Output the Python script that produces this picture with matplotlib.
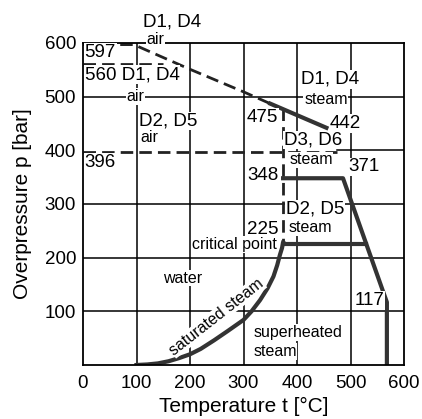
import matplotlib
matplotlib.use("Agg")
from matplotlib import pyplot as plt

# saturated steam curve (t in degC, overpressure in bar)
sat_t = [100, 120, 140, 160, 180, 200, 220, 245, 270, 300, 315, 331, 345, 356, 363, 368, 372, 374]
sat_p = [0, 1, 3, 7, 13, 20, 30, 46, 63, 84, 100, 121, 143, 165, 186, 205, 218, 228]

# D1, D4 limit (air dashed, steam solid)
d14_air_t = [0, 95, 200, 300, 350]
d14_air_p = [597, 597, 551, 509, 487]
d14_steam_t = [350, 455]
d14_steam_p = [487, 442]
d14_560_t = [0, 150]
d14_560_p = [560, 560]

# D2, D5 / D3, D6 air limits (dashed)
d25_air_t = [0, 475]
d25_air_p = [396, 396]
d36_t = [374, 374]
d36_p = [479, 225]

# steam limits (solid)
d36_steam_t = [374, 486, 568, 568]
d36_steam_p = [348, 348, 117, 0]
d25_steam_t = [374, 529]
d25_steam_p = [225, 225]

FONT = "Liberation Sans"
BIG = 13.5
SMALL = 11.5

labels = [
    ("D1, D4", 167, 640, BIG, "center"),
    ("air", 136, 606, SMALL, "center"),
    ("597", 3, 583, BIG, "left"),
    ("560 D1, D4", 3, 541, BIG, "left"),
    ("air", 98, 500, SMALL, "center"),
    ("D2, D5", 159, 455, BIG, "center"),
    ("air", 124, 424, SMALL, "center"),
    ("396", 3, 377, BIG, "left"),
    ("D1, D4", 461, 532, BIG, "center"),
    ("steam", 454, 495, SMALL, "center"),
    ("475", 335, 461, BIG, "center"),
    ("442", 490, 450, BIG, "center"),
    ("D3, D6", 430, 419, BIG, "center"),
    ("steam", 426, 382, SMALL, "center"),
    ("371", 526, 369, BIG, "center"),
    ("348", 366, 353, BIG, "right"),
    ("D2, D5", 434, 290, BIG, "center"),
    ("steam", 424, 256, SMALL, "center"),
    ("225", 336, 252, BIG, "center"),
    ("critical point", 362, 224, SMALL, "right"),
    ("water", 187, 162, SMALL, "center"),
    ("superheated", 318, 61, SMALL, "left"),
    ("steam", 318, 25, SMALL, "left"),
    ("117", 535, 120, BIG, "center"),
]

fig = plt.figure(figsize=(4.22, 4.19), dpi=100)
ax = fig.add_axes([83 / 422, 54 / 419, 321 / 422, 322 / 419])
ax.set_xlim(0, 600)
ax.set_ylim(0, 600)

# grid drawn by hand so the 400 line can give way to the dashed limit
for v in [100, 200, 300, 400, 500]:
    ax.axvline(v, color="black", lw=1.1, zorder=1)
for h in [100, 200, 300, 500]:
    ax.axhline(h, color="black", lw=1.1, zorder=1)
ax.plot([475, 600], [400, 400], color="black", lw=1.1, zorder=1)

for s in ax.spines.values():
    s.set_linewidth(1.3)

dash = dict(color="#222222", lw=2.0, ls=(0, (4.5, 2.2)), zorder=2, solid_capstyle="butt")
thick = dict(color="#333333", lw=3.0, zorder=2, solid_joinstyle="round")

ax.plot(d14_air_t, d14_air_p, **dash)
ax.plot(d14_560_t, d14_560_p, **dash)
ax.plot(d25_air_t, d25_air_p, **dash)
ax.plot(d36_t, d36_p, **dash)
ax.plot(d14_steam_t, d14_steam_p, **thick)
ax.plot(d36_steam_t, d36_steam_p, **thick)
ax.plot(d25_steam_t, d25_steam_p, **thick)
ax.plot(sat_t, sat_p, **thick)

for txt, x, y, size, ha in labels:
    ax.text(x, y, txt, fontsize=size, ha=ha, va="center", family=FONT,
            zorder=4, clip_on=False,
            bbox=dict(facecolor="white", edgecolor="none", pad=0.6))

ax.text(250, 90, "saturated steam", fontsize=SMALL, family=FONT, rotation=38,
        ha="center", va="center", zorder=4,
        bbox=dict(facecolor="white", edgecolor="none", pad=0.3))

ax.set_xticks([0, 100, 200, 300, 400, 500, 600])
ax.set_yticks([100, 200, 300, 400, 500, 600])
ax.tick_params(length=0, labelsize=BIG, pad=7)
ax.tick_params(axis="y", pad=5)
for lab in ax.get_xticklabels() + ax.get_yticklabels():
    lab.set_family(FONT)

ax.set_xlabel("Temperature t [°C]", fontsize=15, family=FONT, labelpad=4)
ax.set_ylabel("Overpressure p [bar]", fontsize=15, family=FONT, labelpad=9)

fig.savefig("out.png", dpi=100)
